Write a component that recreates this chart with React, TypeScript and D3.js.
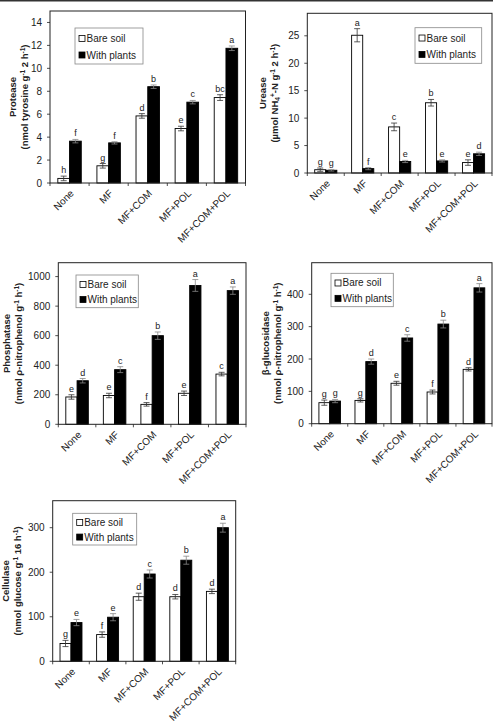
import React from "react";
import * as d3 from "d3";

const W = 493;
const H = 728;

const categories = ["None", "MF", "MF+COM", "MF+POL", "MF+COM+POL"];
const seriesNames = ["Bare soil", "With plants"];

// Protease
const proteaseBare = [0.4, 1.5, 5.85, 4.75, 7.45];
const proteaseBareErr = [0.2, 0.2, 0.2, 0.2, 0.25];
const proteasePlants = [3.65, 3.5, 8.4, 7.05, 11.75];
const proteasePlantsErr = [0.15, 0.1, 0.15, 0.15, 0.2];
const proteaseBareLetters = ["h", "g", "d", "e", "bc"];
const proteasePlantsLetters = ["f", "f", "b", "c", "a"];
const proteaseTicks = [0, 2, 4, 6, 8, 10, 12, 14];

// Urease
const ureaseBare = [0.6, 25.1, 8.4, 12.8, 1.9];
const ureaseBareErr = [0.3, 1.2, 0.7, 0.6, 0.5];
const ureasePlants = [0.5, 0.8, 2.1, 2.2, 3.5];
const ureasePlantsErr = [0.15, 0.2, 0.2, 0.2, 0.3];
const ureaseBareLetters = ["g", "a", "c", "b", "e"];
const ureasePlantsLetters = ["g", "f", "e", "e", "d"];
const ureaseTicks = [0, 5, 10, 15, 20, 25];

// Phosphatase
const phosBare = [185, 195, 135, 210, 340];
const phosBareErr = [15, 15, 12, 15, 12];
const phosPlants = [295, 370, 600, 940, 905];
const phosPlantsErr = [15, 20, 25, 40, 25];
const phosBareLetters = ["e", "e", "f", "e", "c"];
const phosPlantsLetters = ["d", "c", "b", "a", "a"];
const phosTicks = [0, 200, 400, 600, 800, 1000];

// beta-glucosidase
const glucBare = [65, 72, 125, 98, 168];
const glucBareErr = [8, 5, 6, 6, 5];
const glucPlants = [70, 192, 265, 308, 420];
const glucPlantsErr = [5, 8, 10, 12, 13];
const glucBareLetters = ["g", "g", "e", "f", "d"];
const glucPlantsLetters = ["g", "d", "c", "b", "a"];
const glucTicks = [0, 100, 200, 300, 400];

// Cellulase
const cellBare = [40, 60, 145, 145, 157];
const cellBareErr = [7, 6, 8, 5, 5];
const cellPlants = [87, 99, 196, 227, 300];
const cellPlantsErr = [7, 8, 9, 9, 10];
const cellBareLetters = ["g", "f", "d", "d", "d"];
const cellPlantsLetters = ["e", "e", "c", "b", "a"];
const cellTicks = [0, 100, 200, 300];

type Part = { t: string; sup?: boolean; sub?: boolean };

const FONT = "Arial, 'Liberation Sans', 'DejaVu Sans', sans-serif";

const panels = [
  {
    x0: 50, x1: 245.5, yTop: 11, yZero: 183, max: 15, ticks: proteaseTicks,
    bare: proteaseBare, bareErr: proteaseBareErr, plants: proteasePlants, plantsErr: proteasePlantsErr,
    bareL: proteaseBareLetters, plantsL: proteasePlantsLetters,
    title1: [{ t: "Protease" }] as Part[],
    title2: [{ t: "(nmol tyrosine g" }, { t: "-1", sup: true }, { t: " 2 h" }, { t: "-1", sup: true }, { t: ")" }] as Part[],
    tx1: 16, tx2: 28, legend: { x: 75, y: 28, w: 68, h: 36 },
  },
  {
    x0: 307.3, x1: 492, yTop: 13.3, yZero: 173, max: 29.1, ticks: ureaseTicks,
    bare: ureaseBare, bareErr: ureaseBareErr, plants: ureasePlants, plantsErr: ureasePlantsErr,
    bareL: ureaseBareLetters, plantsL: ureasePlantsLetters,
    title1: [{ t: "Urease" }] as Part[],
    title2: [{ t: "(\u00b5mol NH" }, { t: "4", sub: true }, { t: "+", sup: true }, { t: "-N g" }, { t: "-1", sup: true }, { t: " 2 h" }, { t: "-1", sup: true }, { t: ")" }] as Part[],
    tx1: 266, tx2: 278, legend: { x: 415, y: 27.7, w: 66.7, h: 35.6 },
  },
  {
    x0: 58.3, x1: 246, yTop: 262.7, yZero: 424.3, max: 1094, ticks: phosTicks,
    bare: phosBare, bareErr: phosBareErr, plants: phosPlants, plantsErr: phosPlantsErr,
    bareL: phosBareLetters, plantsL: phosPlantsLetters,
    title1: [{ t: "Phosphatase" }] as Part[],
    title2: [{ t: "(nmol \u03c1-nitrophenol g" }, { t: "-1", sup: true }, { t: " h" }, { t: "-1", sup: true }, { t: ")" }] as Part[],
    tx1: 10, tx2: 22, legend: { x: 76, y: 275, w: 62.3, h: 32.7 },
  },
  {
    x0: 311.7, x1: 492, yTop: 262.7, yZero: 423.7, max: 497.7, ticks: glucTicks,
    bare: glucBare, bareErr: glucBareErr, plants: glucPlants, plantsErr: glucPlantsErr,
    bareL: glucBareLetters, plantsL: glucPlantsLetters,
    title1: [{ t: "\u03b2-glucosidase" }] as Part[],
    title2: [{ t: "(nmol \u03c1-nitrophenol g" }, { t: "-1", sup: true }, { t: " h" }, { t: "-1", sup: true }, { t: ")" }] as Part[],
    tx1: 269, tx2: 281, legend: { x: 331, y: 273.3, w: 62.3, h: 33.4 },
  },
  {
    x0: 52.7, x1: 235.7, yTop: 500.7, yZero: 661.3, max: 360.6, ticks: cellTicks,
    bare: cellBare, bareErr: cellBareErr, plants: cellPlants, plantsErr: cellPlantsErr,
    bareL: cellBareLetters, plantsL: cellPlantsLetters,
    title1: [{ t: "Cellulase" }] as Part[],
    title2: [{ t: "(nmol glucose g" }, { t: "-1", sup: true }, { t: " 16 h" }, { t: "-1", sup: true }, { t: ")" }] as Part[],
    tx1: 9, tx2: 21, legend: { x: 72.7, y: 513.3, w: 64, h: 31.7 },
  },
];

function RichText({ parts }: { parts: Part[] }) {
  let shift = 0;
  return (
    <>
      {parts.map((p, i) => {
        const target = p.sup ? -3.4 : p.sub ? 2 : 0;
        const dy = target - shift;
        shift = target;
        return (
          <tspan key={i} dy={dy} fontSize={p.sup || p.sub ? 6.5 : undefined}>
            {p.t}
          </tspan>
        );
      })}
    </>
  );
}

function Panel({ p }: { p: (typeof panels)[number] }) {
  const x = d3.scaleBand<string>().domain(categories).range([p.x0, p.x1]).paddingInner(0).paddingOuter(0);
  const y = d3.scaleLinear().domain([0, p.max]).range([p.yZero, p.yTop]);
  const inner = d3.scaleBand<string>().domain(seriesNames).range([0, x.bandwidth() * 0.6]);
  const off = x.bandwidth() * 0.2;
  const series = [
    { name: seriesNames[0], vals: p.bare, errs: p.bareErr, letters: p.bareL, fill: "#fff" },
    { name: seriesNames[1], vals: p.plants, errs: p.plantsErr, letters: p.plantsL, fill: "#000" },
  ];
  const midY = (p.yTop + p.yZero) / 2;
  const bounds = d3.range(categories.length + 1).map((i) => p.x0 + i * x.bandwidth());
  return (
    <g fontFamily={FONT}>
      {series.map((s) =>
        categories.map((c, i) => {
          const bx = (x(c) as number) + off + (inner(s.name) as number);
          const bw = inner.bandwidth();
          const cx = bx + bw / 2;
          const top = y(s.vals[i]);
          const eTop = y(s.vals[i] + s.errs[i]);
          const eBot = y(s.vals[i] - s.errs[i]);
          return (
            <g key={s.name + c}>
              <rect x={bx} y={top} width={bw} height={p.yZero - top} fill={s.fill} stroke="#000" strokeWidth={0.9} />
              <g stroke={s.fill === "#000" ? "#888" : "#333"} strokeWidth={0.8}>
                <line x1={cx} x2={cx} y1={eTop} y2={eBot} />
                <line x1={cx - 3} x2={cx + 3} y1={eTop} y2={eTop} />
                <line x1={cx - 3} x2={cx + 3} y1={eBot} y2={eBot} />
              </g>
              <text x={cx} y={eTop - 3} textAnchor="middle" fontSize={9} fill="#222">
                {s.letters[i]}
              </text>
            </g>
          );
        })
      )}
      <rect x={p.x0} y={p.yTop} width={p.x1 - p.x0} height={p.yZero - p.yTop} fill="none" stroke="#222" strokeWidth={1} />
      {p.ticks.map((t) => (
        <g key={t}>
          <line x1={p.x0 - 3} x2={p.x0} y1={y(t)} y2={y(t)} stroke="#222" strokeWidth={0.8} />
          <text x={p.x0 - 8} y={y(t)} dy="0.35em" textAnchor="end" fontSize={10} fill="#222">
            {t}
          </text>
        </g>
      ))}
      {bounds.map((bx, i) => (
        <line key={i} x1={bx} x2={bx} y1={p.yZero} y2={p.yZero + 3} stroke="#222" strokeWidth={0.8} />
      ))}
      {categories.map((c) => {
        const cx = (x(c) as number) + x.bandwidth() / 2 + 5;
        const cy = p.yZero + 11;
        return (
          <text key={c} x={cx} y={cy} transform={`rotate(-45,${cx},${cy})`} textAnchor="end" fontSize={10} fill="#222">
            {c}
          </text>
        );
      })}
      <text transform={`translate(${p.tx1},${midY}) rotate(-90)`} textAnchor="middle" fontSize={9.5} fontWeight="bold" fill="#222">
        <RichText parts={p.title1} />
      </text>
      <text transform={`translate(${p.tx2},${midY}) rotate(-90)`} textAnchor="middle" fontSize={9.5} fontWeight="bold" fill="#222">
        <RichText parts={p.title2} />
      </text>
      <g>
        <rect x={p.legend.x} y={p.legend.y} width={p.legend.w} height={p.legend.h} fill="#fff" stroke="#888" strokeWidth={0.8} />
        {seriesNames.map((n, i) => {
          const ly = p.legend.y + p.legend.h * (i === 0 ? 0.29 : 0.75);
          return (
            <g key={n}>
              <rect x={p.legend.x + 4} y={ly - 3} width={6} height={6} fill={i === 0 ? "#fff" : "#000"} stroke="#000" strokeWidth={0.8} />
              <text x={p.legend.x + 11.5} y={ly} dy="0.35em" fontSize={10} fill="#222">
                {n}
              </text>
            </g>
          );
        })}
      </g>
    </g>
  );
}

export default function App() {
  return (
    <svg width={W} height={H} style={{ position: "absolute", left: 0, top: 0, background: "#fff" }}>
      <rect width={W} height={H} fill="#fff" />
      <line x1={0} x2={W} y1={0.75} y2={0.75} stroke="#333" strokeWidth={1.5} />
      {panels.map((p, i) => (
        <Panel key={i} p={p} />
      ))}
    </svg>
  );
}
